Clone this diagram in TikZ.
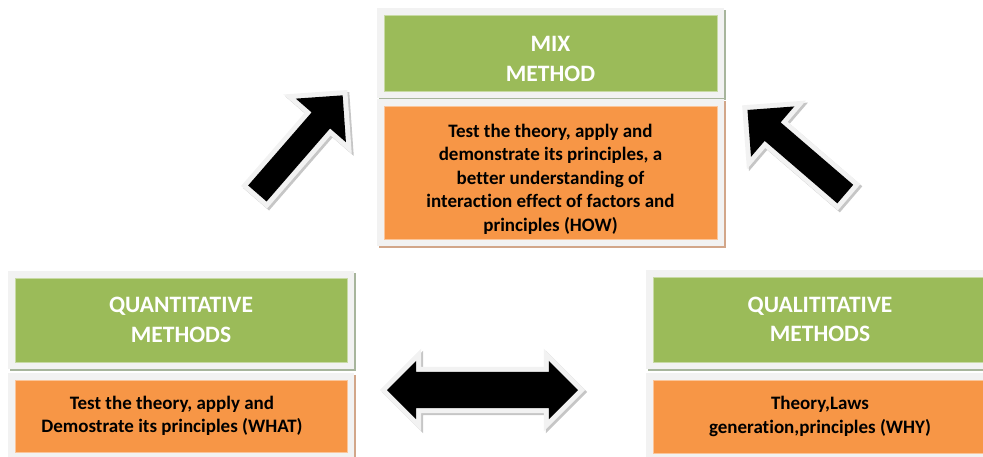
\documentclass[tikz,border=0pt]{standalone}
\usepackage{fontspec}
\setmainfont[Ligatures=NoCommon]{Carlito}
\usetikzlibrary{shapes.arrows}

\definecolor{boxgreen}{HTML}{9BBB59}
\definecolor{boxorange}{HTML}{F79646}
\definecolor{framegray}{HTML}{F2F2F2}
\definecolor{greenshade}{HTML}{A7B59C}
\definecolor{orangeshade}{HTML}{D2A689}
\definecolor{arrowshade}{HTML}{C6C6C6}

\tikzset{
  panel/.style 2 args={fill=#1, draw=#1!55!white, line width=0.8pt,
    inner sep=0pt, align=center,
    preaction={draw=#2, line width=14pt, transform canvas={xshift=2pt, yshift=-2pt}},
    preaction={draw=framegray, line width=14pt}},
  titletext/.style={text=white, font=\fontsize{23.5}{29.5}\selectfont\bfseries},
  bodytext/.style={text=black, font=\fontsize{19}{23.5}\selectfont\bfseries},
  blockarrow/.style={fill=black, outer sep=0pt,
    preaction={draw=arrowshade, fill=arrowshade, line width=10pt,
      transform canvas={xshift=2pt, yshift=-2pt}},
    preaction={draw=framegray, line width=10pt}},
}

\begin{document}
\begin{tikzpicture}[x=1pt, y=-1pt]
  \useasboundingbox (0,0) rectangle (983,456);

  % mixed method, top
  \node[panel={boxgreen}{greenshade}, titletext, minimum width=333, minimum height=76]
    (mixT) at (550.5,53) {\rule{0pt}{27pt}MIX\\METHOD};
  \node[panel={boxorange}{orangeshade}, bodytext, minimum width=333, minimum height=133]
    (mixB) at (550.5,172.5) {\rule{0pt}{26pt}Test the theory, apply and\\demonstrate its principles, a\\better understanding of\\interaction effect of factors and\\principles (HOW)};

  % quantitative, left
  \node[panel={boxgreen}{greenshade}, titletext, minimum width=332, minimum height=84]
    (quanT) at (181,320) {QUANTITATIVE\\METHODS};
  \node[panel={boxorange}{orangeshade}, bodytext, minimum width=332, minimum height=72]
    (quanB) at (181,416) {Test the theory, apply and\hspace*{18pt}\\Demostrate its principles (WHAT)\hspace*{18pt}};

  % qualitative, right
  \node[panel={boxgreen}{greenshade}, titletext, minimum width=334, minimum height=85]
    (qualT) at (820,319.5) {QUALITITATIVE\\METHODS};
  \node[panel={boxorange}{orangeshade}, bodytext, minimum width=334, minimum height=73]
    (qualB) at (820,416.5) {Theory,Laws\\generation,principles (WHY)};

  % block arrows
  \node[blockarrow, single arrow, minimum height=130, minimum width=66,
    single arrow head extend=21pt, inner sep=12pt, rotate=49] (toMixL) at (296,149) {};
  \node[blockarrow, single arrow, minimum height=129, minimum width=66,
    single arrow head extend=21pt, inner sep=12pt, rotate=139.3] (toMixR) at (801,156) {};
  \node[blockarrow, double arrow, minimum height=191, minimum width=58,
    double arrow head extend=11pt, inner sep=18pt] (both) at (482.5,390) {};
\end{tikzpicture}
\end{document}
